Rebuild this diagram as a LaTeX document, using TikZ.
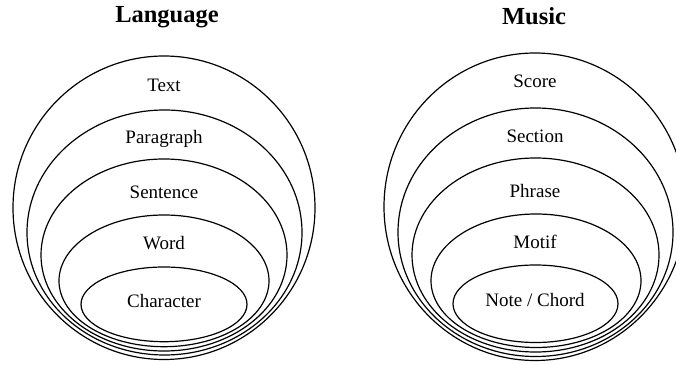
\documentclass[tikz,border=0pt]{standalone}
\usepackage{fontspec}
\setmainfont{Liberation Serif}
\usetikzlibrary{positioning}

\begin{document}
\begin{tikzpicture}[
    x=1pt, y=1pt,
    ring/.style={draw, line width=1.2pt},
    level/.style={anchor=base, font=\fontsize{19}{22}\selectfont},
    heading/.style={anchor=base, font=\fontsize{24.5}{28}\selectfont\bfseries}
]
\useasboundingbox (0,0) rectangle (676,364);

% Language rings, outermost first
\draw[ring] (164,156.25) ellipse (151 and 151.75);
\draw[ring] (164.5,131.5) ellipse (137.5 and 122.5);
\draw[ring] (164,109) ellipse (123 and 96);
\draw[ring] (164,83.15) ellipse (105 and 65.85);
\draw[ring] (164,59.65) ellipse (83 and 37.35);

% Music rings, outermost first
\draw[ring] (535,157.25) ellipse (151 and 153.75);
\draw[ring] (535.5,131.75) ellipse (137.5 and 124.25);
\draw[ring] (535.5,109) ellipse (123.5 and 97);
\draw[ring] (536,83.25) ellipse (105 and 66.75);
\draw[ring] (535.5,60.25) ellipse (82.5 and 38.75);

% Titles
\node[heading] (language) at (167,341.3) {Language};
\node[heading] (music) at (534,339) {Music};

% Language levels
\node[level] (text) at (164,272) {Text};
\node[level] (paragraph) at (164,220.7) {Paragraph};
\node[level] (sentence) at (164,165.7) {Sentence};
\node[level] (word) at (164,114) {Word};
\node[level] (character) at (164,56.7) {Character};

% Music levels
\node[level] (score) at (535,276.7) {Score};
\node[level] (section) at (535,221.3) {Section};
\node[level] (phrase) at (535,166.7) {Phrase};
\node[level] (motif) at (535,115) {Motif};
\node[level] (note) at (535,57.3) {Note / Chord};

\end{tikzpicture}
\end{document}
